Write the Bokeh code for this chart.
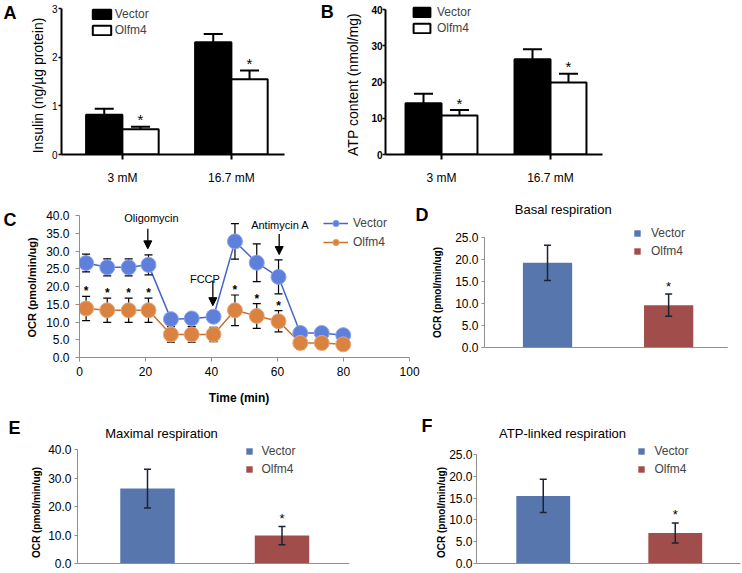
from types import SimpleNamespace
from bokeh.plotting import figure
from bokeh.layouts import row, column
from bokeh.models import (Range1d, FixedTicker, Label, Legend, LegendItem, Arrow, LinearAxis,
                          NormalHead, PrintfTickFormatter)
from bokeh.core.properties import value
from bokeh.embed import file_html
from bokeh.resources import INLINE

FONT = "Liberation Sans"

# ---------------- data ----------------
series = ["Vector", "Olfm4"]
glucose_groups = ["3 mM", "16.7 mM"]

insulin_vector = [0.82, 2.31]
insulin_vector_err = [0.12, 0.17]
insulin_olfm4 = [0.52, 1.55]
insulin_olfm4_err = [0.05, 0.18]

atp_vector = [14.2, 26.3]
atp_vector_err = [2.6, 2.8]
atp_olfm4 = [10.8, 19.9]
atp_olfm4_err = [1.5, 2.4]

ocr_time = [2.0, 8.4, 14.9, 20.9, 27.7, 34.0, 40.6, 47.1, 53.7, 60.3, 66.9, 73.4, 79.9]
ocr_vector = [26.6, 25.4, 25.4, 26.1, 10.8, 11.0, 11.5, 32.7, 26.7, 22.7, 6.9, 6.9, 6.3]
ocr_vector_err = [2.5, 2.4, 2.4, 2.8, 1.0, 1.0, 1.0, 5.0, 5.3, 4.8, 1.0, 1.0, 1.0]
ocr_olfm4 = [13.8, 13.3, 13.3, 13.3, 6.5, 6.5, 6.5, 13.3, 11.7, 10.2, 4.1, 4.1, 3.7]
ocr_olfm4_err = [3.4, 3.4, 3.4, 3.4, 2.2, 2.2, 2.0, 4.3, 3.5, 3.0, 1.8, 1.8, 1.5]
ocr_sig = [1, 1, 1, 1, 0, 0, 0, 1, 1, 1, 0, 0, 0]
injections = ["Oligomycin", "FCCP", "Antimycin A"]
injection_time = [20.7, 40.4, 60.5]

basal = [19.2, 9.6]
basal_err = [4.0, 2.5]
maximal = [26.3, 9.8]
maximal_err = [6.8, 3.2]
atp_linked = [15.5, 7.0]
atp_linked_err = [3.8, 2.3]

a_yticks = [0, 1, 2, 3]
b_yticks = [0, 10, 20, 30, 40]
c_yticks = [0, 5, 10, 15, 20, 25, 30, 35, 40]
c_xticks = [0, 20, 40, 60, 80, 100]
d_yticks = [0, 5, 10, 15, 20, 25]
e_yticks = [0, 10, 20, 30, 40]
f_yticks = [0, 5, 10, 15, 20, 25]

BLUE_M = "#5E80DC"
BLUE_L = "#4466C8"
ORANGE_M = "#DA8340"
ORANGE_L = "#C8712F"
BAR_BLUE = "#5776AE"
BAR_RED = "#A14D4B"
AX_GRAY = "#8f8f8f"
ERR_DARK = "#1b2333"


# ---------------- helpers ----------------
def axis_map(p1, v1, p2, v2):
    k = (v2 - v1) / (p2 - p1)
    return lambda px: v1 + (px - p1) * k


def make_fig(fx0, fx1, ry0, ry1, fl, fr, ft, fb, xm, ym):
    g = SimpleNamespace(fl=fl, fr=fr, ft=ft, fb=fb, xm=xm, ym=ym)
    p = figure(width=fx1 - fx0, height=ry1 - ry0,
               x_range=Range1d(xm(fl), xm(fr)), y_range=Range1d(ym(fb), ym(ft)),
               min_border_left=fl - fx0, min_border_right=fx1 - fr,
               min_border_top=ft - ry0, min_border_bottom=ry1 - fb,
               output_backend="svg", toolbar_location=None, tools="")
    p.extra_y_ranges = {"px": Range1d(0, fb - ft)}
    p.extra_x_ranges = {"pxx": Range1d(0, fr - fl)}
    p.outline_line_color = None
    p.xgrid.visible = False
    p.ygrid.visible = False
    p.background_fill_color = "white"
    p.border_fill_color = "white"
    for ax in (p.xaxis[0], p.yaxis[0]):
        ax.major_label_text_font = FONT
        ax.major_label_text_color = "black"
        ax.minor_tick_line_color = None
        ax.major_tick_in = 0
    return p, g


def _text_axis(t, text, size, bold, standoff, vertical):
    ax = LinearAxis(ticker=FixedTicker(ticks=[t]), major_label_overrides={t: text},
                    axis_line_color=None, major_tick_line_color=None, minor_tick_line_color=None,
                    major_tick_out=0, major_tick_in=0, major_label_standoff=standoff,
                    major_label_text_font=FONT, major_label_text_font_size=f"{size}px",
                    major_label_text_font_style="bold" if bold else "normal",
                    major_label_text_color="black")
    if vertical:
        ax.major_label_orientation = "vertical"
    return ax


def side_text(p, g, text, py, size, bold, standoff, vertical=False):
    t = int(round(g.fb - py))
    ax = _text_axis(t, text, size, bold, standoff, vertical)
    ax.y_range_name = "px"
    p.add_layout(ax, "left")


def below_text(p, g, text, px, size, bold, standoff):
    t = int(round(px - g.fl))
    ax = _text_axis(t, text, size, bold, standoff, False)
    ax.x_range_name = "pxx"
    p.add_layout(ax, "below")


def frame_text(p, g, text, px, py, size, bold=False, align="left"):
    p.add_layout(Label(x=g.xm(px), y=g.ym(py), text=text, text_font=FONT,
                       text_font_size=f"{size}px", text_font_style="bold" if bold else "normal",
                       text_align=align, text_baseline="middle", text_color="black"))


def legend_at(p, g, items, left_px, top_px, gw, gh, lh, spacing, standoff):
    n = len(items)
    height = n * lh + (n - 1) * spacing
    leg = Legend(items=items, location=(left_px - g.fl, g.fb - (top_px + height)),
                 orientation="vertical")
    leg.glyph_width = gw
    leg.glyph_height = gh
    leg.label_height = lh
    leg.spacing = spacing
    leg.label_standoff = standoff
    leg.padding = 0
    leg.margin = 0
    leg.border_line_alpha = 0
    leg.background_fill_alpha = 0
    leg.label_text_font = FONT
    leg.label_text_font_size = "12px"
    p.add_layout(leg)


# ---------------- panels A & B ----------------
def graphpad_panel(p, g, vec, vec_err, olf, olf_err, bw, yticks, bold_ticks, axis_right_px,
                   leg_left, leg_top, leg_gw, leg_standoff):
    idx = [i + 1 for i in range(len(glucose_groups))]
    xv = [i - bw / 2 for i in idx]
    xo = [i + bw / 2 for i in idx]
    rv = p.vbar(x=xv, top=vec, width=bw, fill_color="black", line_color="black", line_width=2)
    ro = p.vbar(x=xo, top=olf, width=bw, fill_color="white", line_color="black", line_width=2)
    for xs, tops, errs in ((xv, vec, vec_err), (xo, olf, olf_err)):
        hi = [t + e for t, e in zip(tops, errs)]
        p.segment(x0=xs, y0=tops, x1=xs, y1=hi, line_width=2, line_color="black")
        p.scatter(x=xs, y=hi, marker="dash", size=19, line_width=2, line_color="black")
    hi_o = [t + e for t, e in zip(olf, olf_err)]
    p.text(x=xo, y=hi_o, text=["*"] * len(xo), text_align="center", text_baseline="middle",
           y_offset=-7, text_font=value(FONT), text_font_size="15px", text_color="black")

    xa = p.xaxis[0]
    xa.ticker = FixedTicker(ticks=idx)
    xa.major_label_overrides = {i: gname for i, gname in zip(idx, glucose_groups)}
    xa.bounds = (g.xm(g.fl), g.xm(axis_right_px))
    xa.axis_line_width = 2
    xa.major_tick_line_width = 2
    xa.major_tick_out = 5
    xa.major_label_text_font_size = "12px"
    xa.major_label_standoff = 11

    ya = p.yaxis[0]
    ya.ticker = FixedTicker(ticks=yticks)
    ya.bounds = (yticks[0], yticks[-1])
    ya.axis_line_width = 2
    ya.major_tick_line_width = 1.5
    ya.major_tick_out = 3
    ya.major_label_standoff = 1 if not bold_ticks else 0
    ya.major_label_text_font_size = "10px"
    if bold_ticks:
        ya.major_label_text_font_style = "bold"

    legend_at(p, g, [LegendItem(label=series[0], renderers=[rv]),
                     LegendItem(label=series[1], renderers=[ro])],
              leg_left, leg_top, leg_gw, 12, 16, 0, leg_standoff)


pA, gA = make_fig(0, 334, 0, 200, 56, 334, 0, 154,
                  axis_map(118, 1, 229, 2), axis_map(154, 0, 8.3, 3))
graphpad_panel(pA, gA, insulin_vector, insulin_vector_err, insulin_olfm4, insulin_olfm4_err,
               0.333, a_yticks, False, 283, 84.7, 5.5, 23, 2)
side_text(pA, gA, "Insulin (ng/µg protein)", 85, 14, False, 3, vertical=True)
side_text(pA, gA, "A", 11.5, 18, True, 10)
frame_text(pA, gA, "B", 320, 11.5, 18, bold=True)

pB, gB = make_fig(334, 742, 0, 200, 385, 742, 0, 154,
                  axis_map(441, 1, 550, 2), axis_map(154, 0, 9.3, 40))
graphpad_panel(pB, gB, atp_vector, atp_vector_err, atp_olfm4, atp_olfm4_err,
               0.33, b_yticks, True, 602, 410.9, 4, 21, 5)
side_text(pB, gB, "ATP content (nmol/mg)", 84, 14, False, 8, vertical=True)

# ---------------- panel C ----------------
pC, gC = make_fig(0, 428, 200, 416, 78, 428, 200, 357,
                  axis_map(78, 0, 409, 100), axis_map(357, 0, 215, 40))
lo = pC.line(ocr_time, ocr_olfm4, line_color=ORANGE_L, line_width=1.5)
lv = pC.line(ocr_time, ocr_vector, line_color=BLUE_L, line_width=1.5)
for ys, es in ((ocr_vector, ocr_vector_err), (ocr_olfm4, ocr_olfm4_err)):
    lo_y = [y - e for y, e in zip(ys, es)]
    hi_y = [y + e for y, e in zip(ys, es)]
    pC.segment(x0=ocr_time, y0=lo_y, x1=ocr_time, y1=hi_y, line_color="black", line_width=1.2)
    pC.scatter(x=ocr_time, y=lo_y, marker="dash", size=8, line_color="black", line_width=1.2)
    pC.scatter(x=ocr_time, y=hi_y, marker="dash", size=8, line_color="black", line_width=1.2)
mv = pC.scatter(ocr_time, ocr_vector, size=15, fill_color=BLUE_M, line_color="#8ea5e8", line_width=1)
mo = pC.scatter(ocr_time, ocr_olfm4, size=15, fill_color=ORANGE_M, line_color="#e6a77a", line_width=1)
star_x = [t for t, s in zip(ocr_time, ocr_sig) if s]
star_y = [y + e for y, e, s in zip(ocr_olfm4, ocr_olfm4_err, ocr_sig) if s]
pC.text(x=star_x, y=star_y, text=["*"] * len(star_x), text_align="center",
        text_baseline="middle", y_offset=-5, text_font=value(FONT),
        text_font_size="12px", text_font_style="bold", text_color="black")

arrow_y = [(36.3, 30.6), (21.7, 14.6), (34.8, 29.0)]
label_pos = [(21.8, 39.2), (38.0, 22.0), (60.8, 37.2)]
for name, t, (ys, ye), (lx, ly) in zip(injections, injection_time, arrow_y, label_pos):
    pC.add_layout(Arrow(end=NormalHead(size=8, fill_color="black", line_color="black", line_width=1),
                        x_start=t, y_start=ys, x_end=t, y_end=ye, line_width=1.3, line_color="black"))
    pC.add_layout(Label(x=lx, y=ly, text=name, text_font=FONT, text_font_size="11px",
                        text_align="center", text_baseline="middle", text_color="black"))

xa = pC.xaxis[0]
xa.ticker = FixedTicker(ticks=c_xticks)
xa.bounds = (c_xticks[0], c_xticks[-1])
xa.axis_line_color = AX_GRAY
xa.major_tick_line_color = AX_GRAY
xa.major_tick_out = 4
xa.major_label_standoff = 5
xa.major_label_text_font_size = "12px"
ya = pC.yaxis[0]
ya.ticker = FixedTicker(ticks=c_yticks)
ya.bounds = (c_yticks[0], c_yticks[-1])
ya.formatter = PrintfTickFormatter(format="%.1f")
ya.axis_line_color = AX_GRAY
ya.major_tick_line_color = AX_GRAY
ya.major_tick_out = 4
ya.major_label_standoff = 6
ya.major_label_text_font_size = "12px"

legend_at(pC, gC, [LegendItem(label=series[0], renderers=[lv, mv]),
                   LegendItem(label=series[1], renderers=[lo, mo])],
          322, 215, 25, 16, 16, 3, 5)
below_text(pC, gC, "Time (min)", 238, 12, True, 12)
side_text(pC, gC, "OCR (pmol/min/ug)", 287.5, 11, True, 6, vertical=True)
side_text(pC, gC, "C", 218.5, 18, True, 6)
frame_text(pC, gC, "D", 415, 214.5, 18, bold=True)


# ---------------- panels D, E, F ----------------
def excel_panel(p, g, vals, errs, bw, yticks, axis_right_px, hide_xaxis):
    idx = [i + 1 for i in range(len(series))]
    bars = p.vbar(x=idx, top=vals, width=bw, fill_color=[BAR_BLUE, BAR_RED], line_color=None)
    lo_y = [v - e for v, e in zip(vals, errs)]
    hi_y = [v + e for v, e in zip(vals, errs)]
    p.segment(x0=idx, y0=lo_y, x1=idx, y1=hi_y, line_color=ERR_DARK, line_width=1.5)
    p.scatter(x=idx, y=lo_y, marker="dash", size=7, line_color=ERR_DARK, line_width=1.5)
    p.scatter(x=idx, y=hi_y, marker="dash", size=7, line_color=ERR_DARK, line_width=1.5)
    p.text(x=idx[1:], y=hi_y[1:], text=["*"], text_align="center", text_baseline="middle",
           y_offset=-8, text_font=value(FONT), text_font_size="13px", text_color="black")

    xa = p.xaxis[0]
    if hide_xaxis:
        xa.visible = False
        p.segment(x0=[g.xm(g.fl)], y0=[0], x1=[g.xm(axis_right_px)], y1=[0],
                  line_color=AX_GRAY, line_width=1)
    else:
        xa.ticker = FixedTicker(ticks=[])
        xa.bounds = (g.xm(g.fl), g.xm(axis_right_px))
        xa.axis_line_color = AX_GRAY
        xa.major_tick_line_color = None
        xa.major_tick_out = 0
        xa.major_label_standoff = 0
    ya = p.yaxis[0]
    ya.ticker = FixedTicker(ticks=yticks)
    ya.bounds = (yticks[0], yticks[-1])
    ya.formatter = PrintfTickFormatter(format="%.1f")
    ya.axis_line_color = AX_GRAY
    ya.major_tick_line_color = AX_GRAY
    ya.major_tick_out = 3
    ya.major_label_standoff = 3
    ya.major_label_text_font_size = "12px"
    return [LegendItem(label=name, renderers=[bars], index=i) for i, name in enumerate(series)]


pD, gD = make_fig(428, 742, 200, 416, 480, 742, 200, 357,
                  axis_map(544, 1, 667, 2), axis_map(347, 0, 236.7, 25))
itD = excel_panel(pD, gD, basal, basal_err, 0.4065, d_yticks, 727, True)
legend_at(pD, gD, itD, 629, 225, 8, 8, 16, 2, 10)
frame_text(pD, gD, "Basal respiration", 560, 209, 13, align="center")
side_text(pD, gD, "OCR (pmol/min/ug)", 292, 10, True, 10, vertical=True)

pE, gE = make_fig(0, 432, 416, 573, 77, 432, 416, 563,
                  axis_map(147, 1, 281.5, 2), axis_map(563, 0, 449, 40))
itE = excel_panel(pE, gE, maximal, maximal_err, 0.405, e_yticks, 349, False)
legend_at(pE, gE, itE, 244.5, 443, 8, 8, 16, 2, 9)
frame_text(pE, gE, "Maximal respiration", 161, 433, 13, align="center")
side_text(pE, gE, "OCR (pmol/min/ug)", 512, 10, True, 4, vertical=True)
side_text(pE, gE, "E", 425.5, 18, True, 7)
frame_text(pE, gE, "F", 421, 425.5, 18, bold=True)

pF, gF = make_fig(432, 742, 416, 573, 473, 742, 416, 563,
                  axis_map(540.5, 1, 674, 2), axis_map(563, 0, 454, 25))
itF = excel_panel(pF, gF, atp_linked, atp_linked_err, 0.408, f_yticks, 740, False)
pF.yaxis[0].major_label_standoff = 1
legend_at(pF, gF, itF, 633.5, 443, 8, 8, 16, 2, 10)
frame_text(pF, gF, "ATP-linked respiration", 560, 433, 13, align="center")
side_text(pF, gF, "OCR (pmol/min/ug)", 512, 10, True, 0, vertical=True)

layout = column(row(pA, pB), row(pC, pD), row(pE, pF))
open("out.html", "w").write(file_html(layout, INLINE))
